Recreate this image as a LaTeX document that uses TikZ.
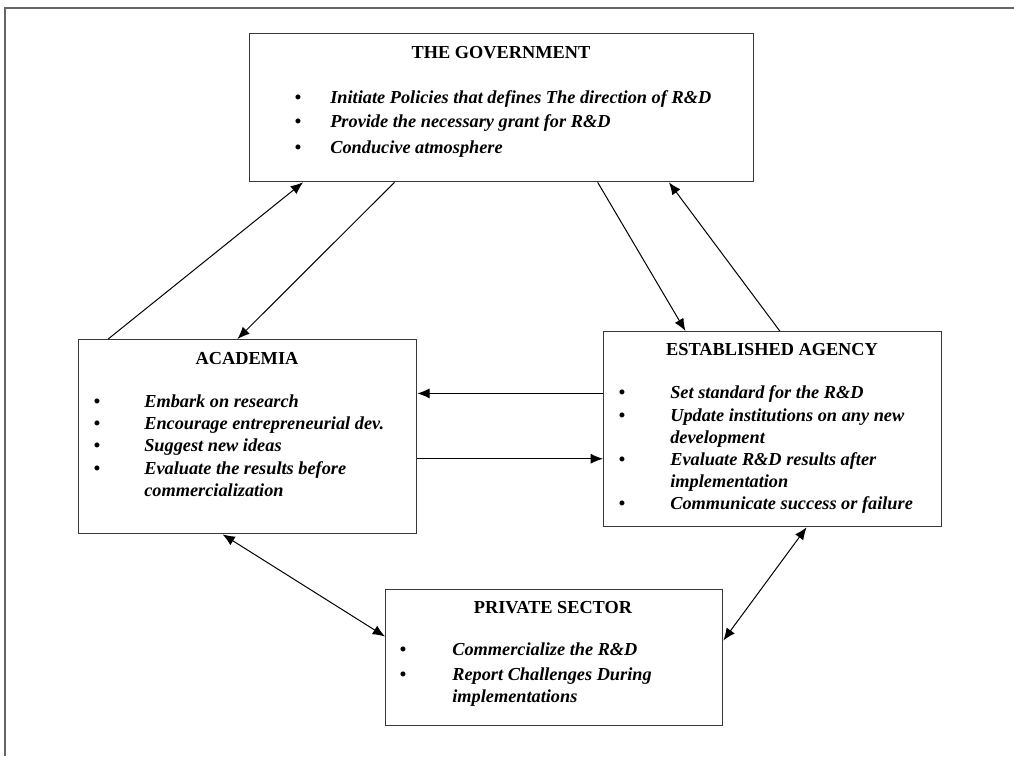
\documentclass[tikz,border=0pt]{standalone}
\usepackage{fontspec}
\setmainfont{Liberation Serif}
\usetikzlibrary{arrows.meta, calc}

\newcommand\boxfont{\fontsize{11.9pt}{14.3pt}\selectfont}

\tikzset{
	box/.style = {draw = black!78, line width = 0.85pt, anchor = north west, inner sep = 0pt},
	heading/.style = {anchor = base, font = \boxfont\bfseries},
	bulletdot/.style = {anchor = base, font = \boxfont\bfseries},
	entry/.style = {anchor = base west, align = left, inner sep = 0pt, font = \boxfont\bfseries\itshape},
	link/.style = {line width = 0.65pt, -{Latex[length = 8pt, width = 6.5pt]}},
	twoway/.style = {line width = 0.65pt, {Latex[length = 8pt, width = 6.5pt]}-{Latex[length = 8pt, width = 6.5pt]}},
}

\begin{document}
\begin{tikzpicture}[yscale = -1, x = 0.65pt, y = 0.65pt]
	\useasboundingbox (0, 0) rectangle (1014, 756);

	% Rahmen
	\draw [black!60, line width = 1.3pt] (1014, 8) -- (5, 8) -- (5, 756);

	% Kaesten
	\node [box, minimum width = 327.6pt, minimum height = 96.2pt] (gov) at (249, 33) {};
	\node [box, minimum width = 219.7pt, minimum height = 126.1pt] (acad) at (78, 339) {};
	\node [box, minimum width = 219.7pt, minimum height = 126.75pt] (agency) at (603, 331) {};
	\node [box, minimum width = 219.05pt, minimum height = 88.4pt] (private) at (385, 589) {};

	% Regierung
	\node [heading] (govtitle) at (501, 58) {THE GOVERNMENT};
	\foreach \y [count = \i] in {103, 127, 153} {
		\node [bulletdot] (govdot\i) at (298, \y) {\textbullet};
	}
	\node [entry] (govitem1) at (330, 103) {Initiate Policies that defines The direction of R\&D};
	\node [entry] (govitem2) at (330, 127) {Provide the necessary grant for R\&D};
	\node [entry] (govitem3) at (330, 153) {Conducive atmosphere};

	% Akademie (mehrzeilig: Grundlinie der letzten Zeile)
	\node [heading] (acadtitle) at (247, 364) {ACADEMIA};
	\foreach \y [count = \i] in {407, 429, 451, 474} {
		\node [bulletdot] (acaddot\i) at (97, \y) {\textbullet};
	}
	\node [entry] (acaditem1) at (144, 407) {Embark on research};
	\node [entry] (acaditem2) at (144, 429) {Encourage entrepreneurial dev.};
	\node [entry] (acaditem3) at (144, 451) {Suggest new ideas};
	\node [entry] (acaditem4) at (144, 496) {Evaluate the results before\\commercialization};

	% Agentur
	\node [heading] (agencytitle) at (772, 355) {ESTABLISHED AGENCY};
	\foreach \y [count = \i] in {398, 421, 465, 509} {
		\node [bulletdot] (agencydot\i) at (622, \y) {\textbullet};
	}
	\node [entry] (agencyitem1) at (670, 398) {Set standard for the R\&D};
	\node [entry] (agencyitem2) at (670, 443) {Update institutions on any new\\development};
	\node [entry] (agencyitem3) at (670, 487) {Evaluate R\&D results after\\implementation};
	\node [entry] (agencyitem4) at (670, 509) {Communicate success or failure};

	% Privatsektor
	\node [heading] (privatetitle) at (553, 613) {PRIVATE SECTOR};
	\foreach \y [count = \i] in {655, 680} {
		\node [bulletdot] (privatedot\i) at (403, \y) {\textbullet};
	}
	\node [entry] (privateitem1) at (452, 655) {Commercialize the R\&D};
	\node [entry] (privateitem2) at (452, 702) {Report Challenges During\\implementations};

	% Pfeile
	\draw [link] ($(acad.north west)!0.089!(acad.north east)$) -- ($(gov.south west)!0.107!(gov.south east)$);
	\draw [link] ($(gov.south west)!0.288!(gov.south east)$) -- ($(acad.north west)!0.47!(acad.north east)$);
	\draw [link] ($(gov.south west)!0.69!(gov.south east)$) -- ($(agency.north west)!0.243!(agency.north east)$);
	\draw [link] ($(agency.north west)!0.521!(agency.north east)$) -- ($(gov.south west)!0.831!(gov.south east)$);

	\coordinate (upper) at ($(agency.north west)!0.318!(agency.south west)$);
	\coordinate (lower) at ($(acad.north east)!0.613!(acad.south east)$);
	\draw [link] (upper) -- (upper -| acad.east);
	\draw [link] (lower) -- (lower -| agency.west);

	\draw [twoway] ($(acad.south west)!0.426!(acad.south east)$) -- ($(private.north west)!0.346!(private.south west)$);
	\draw [twoway] ($(agency.south west)!0.6!(agency.south east)$) -- ($(private.north east)!0.375!(private.south east)$);
\end{tikzpicture}
\end{document}
